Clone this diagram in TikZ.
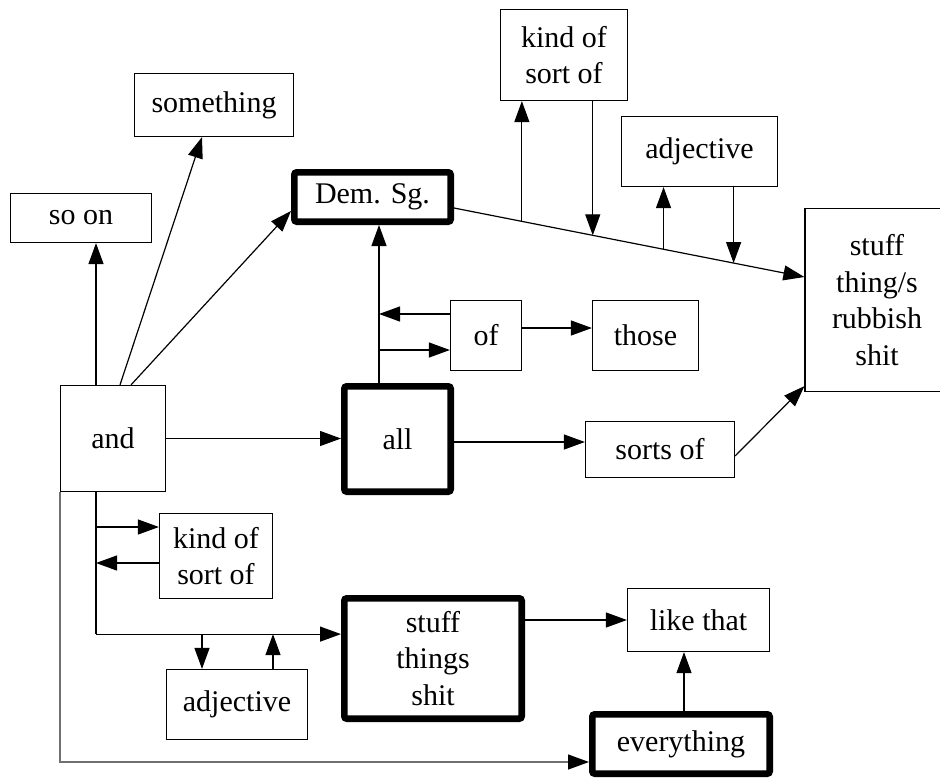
\documentclass[tikz,border=0pt]{standalone}
\usepackage{fontspec}
\setmainfont{Liberation Serif}
\usetikzlibrary{arrows.meta,calc}
\definecolor{linegray}{RGB}{112,112,112}
\begin{document}
\begin{tikzpicture}[x=1pt,y=-1pt,
  box/.style={draw,line width=1.2pt,inner sep=0pt,align=center,font=\fontsize{30}{36.5}\selectfont},
  heavy/.style={box,line width=6.7pt,rounded corners=2.5pt},
  arr/.style={line width=1.2pt,-{Triangle[length=21pt,width=15pt]}},
  ln/.style={line width=1.2pt}]
\useasboundingbox (0,0) rectangle (940,777);
% nodes
\node[box,minimum width=159pt,minimum height=63pt] (sm) at (214,105) {something};
\node[box,minimum width=141pt,minimum height=49pt] (son) at (81,218) {so on};
\node[heavy,minimum width=156.3pt,minimum height=49.3pt] (dem) at (372.5,197) {Dem. Sg.};
\node[box,minimum width=105pt,minimum height=106pt] (and) at (113,438.5) {and};
\node[heavy,minimum width=106.3pt,minimum height=105.3pt] (all) at (397.5,439) {all};
\node[box,minimum width=113pt,minimum height=85pt] (kb) at (216,556) {kind of\\sort of};
\node[box,minimum width=141pt,minimum height=70pt] (ab) at (237,704.5) {adjective};
\node[heavy,minimum width=177.3pt,minimum height=120.3pt] (sth) at (433,658.5) {stuff\\things\\shit};
\node[box,minimum width=142pt,minimum height=63pt] (lt) at (698.5,620) {like that};
\node[heavy,minimum width=177.3pt,minimum height=59.3pt] (ev) at (681,744) {everything};
\node[box,minimum width=149pt,minimum height=56pt] (sf) at (660,449.5) {sorts of};
\node[box,minimum width=71pt,minimum height=70pt] (of) at (486,335.5) {of};
\node[box,minimum width=106pt,minimum height=70pt] (th) at (645.5,335.5) {those};
\node[box,minimum width=127pt,minimum height=91pt] (kt) at (564,55) {kind of\\sort of};
\node[box,minimum width=156pt,minimum height=70pt] (at) at (699.5,151.5) {adjective};
\node[box,minimum width=144pt,minimum height=183pt] (st) at (877,300) {stuff\\thing/s\\rubbish\\shit};
% connectors from "and"
\coordinate (a1) at ($(and.north)+(-17,0)$);
\draw[arr] (a1) -- (a1 |- son.south);
\draw[arr] ($(and.north)+(7,0)$) -- ($(sm.south)+(-12,0)$);
\draw[arr] ($(and.north)+(18,0)$) -- ($(dem.west)+(0,14)$);
\draw[arr] (and.east) -- (and.east -| all.west);
% all -> Dem. Sg. and "of"
\coordinate (v1) at ($(all.north)+(-18.5,0)$);
\draw[arr] (v1) -- (v1 |- dem.south);
\coordinate (o1) at ($(of.west)+(0,-21.5)$);
\coordinate (o2) at ($(of.west)+(0,14.5)$);
\draw[arr] (o1) -- (o1 -| v1);
\draw[arr] (o2 -| v1) -- (o2);
\coordinate (o3) at ($(of.east)+(0,-7.5)$);
\draw[arr] (o3) -- (o3 -| th.west);
% all -> sorts of -> stuff
\coordinate (s0) at ($(all.east)+(0,3)$);
\draw[arr] (s0) -- (s0 -| sf.west);
\draw[arr] ($(sf.east)+(0,6.5)$) -- ($(st.south west)+(0,-6)$);
% Dem. Sg. -> stuff
\coordinate (d1) at ($(dem.east)+(0,11)$);
\coordinate (d2) at ($(st.west)+(0,-23)$);
\draw[arr] (d1) -- (d2);
\coordinate (j1) at ($(d1)!0.1937!(d2)$);
\coordinate (j2) at ($(d1)!0.396!(d2)$);
\coordinate (j3) at ($(d1)!0.598!(d2)$);
\coordinate (j4) at ($(d1)!0.798!(d2)$);
\draw[arr] (j1) -- (j1 |- kt.south);
\draw[arr] (j2 |- kt.south) -- (j2);
\draw[arr] (j3) -- (j3 |- at.south);
\draw[arr] (j4 |- at.south) -- (j4);
% lower branch
\coordinate (b0) at ($(and.south)+(-17,0)$);
\coordinate (b1) at ($(b0)+(0,142)$);
\draw[ln] (b0) -- (b1);
\draw[arr] (b1) -- (b1 -| sth.west);
\coordinate (k1) at ($(kb.west)+(0,-29)$);
\coordinate (k2) at ($(kb.west)+(0,7)$);
\draw[arr] (k1 -| b0) -- (k1);
\draw[arr] (k2) -- (k2 -| b0);
\coordinate (p1) at ($(ab.north)+(-35,0)$);
\coordinate (p2) at ($(ab.north)+(36,0)$);
\draw[arr] (p1 |- b1) -- (p1);
\draw[arr] (p2) -- (p2 |- b1);
\draw[arr] (lt.west -| sth.east) -- (lt.west);
\coordinate (e1) at ($(ev.north)+(3,0)$);
\draw[arr] (e1) -- (e1 |- lt.south);
\coordinate (g1) at ($(ev.west)+(0,18)$);
\draw[linegray,line width=1.3pt,-{Triangle[length=21pt,width=15pt,color=black]}] (and.south west) -- (and.south west |- g1) -- (g1);
\end{tikzpicture}
\end{document}
